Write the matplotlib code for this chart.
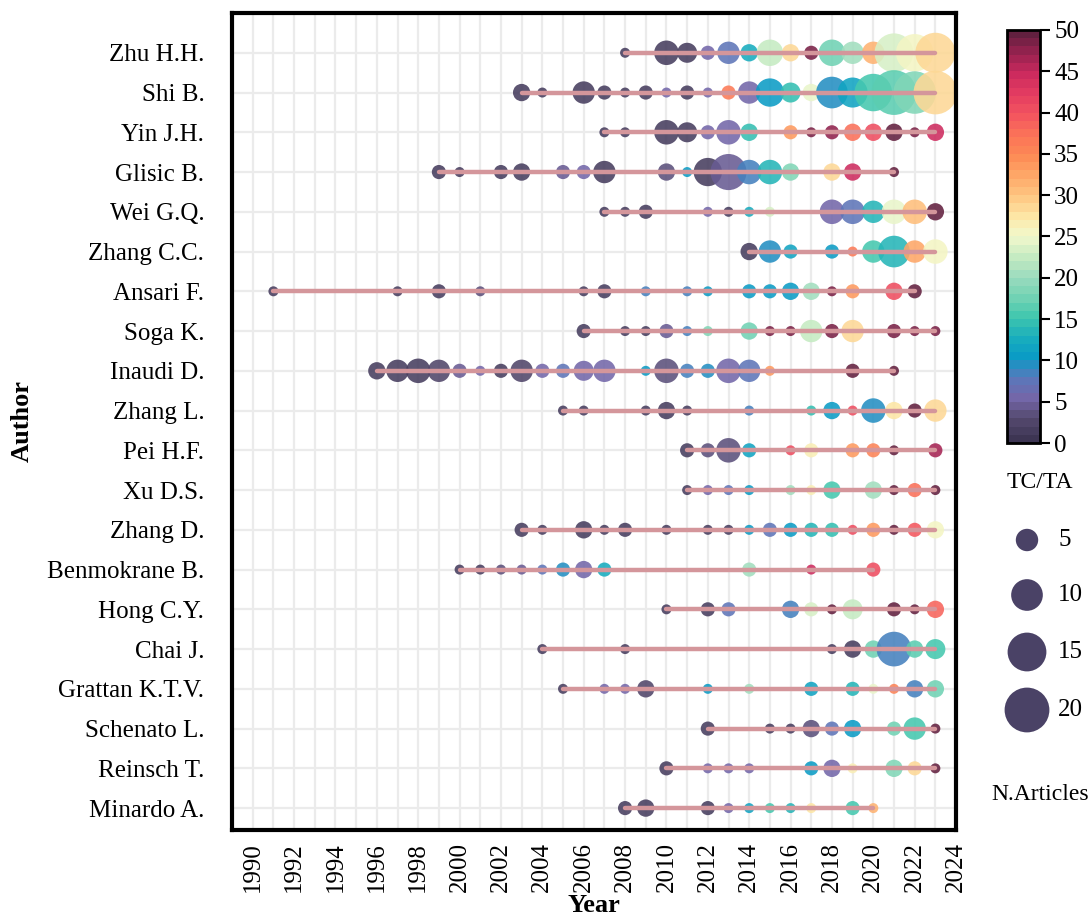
import matplotlib
matplotlib.use("Agg")
import matplotlib.pyplot as plt
import numpy as np
from matplotlib.colors import LinearSegmentedColormap, Normalize
from matplotlib.cm import ScalarMappable

plt.rcParams["font.family"] = ["Liberation Serif", "DejaVu Serif"]

AUTHORS = ["Zhu H.H.", "Shi B.", "Yin J.H.", "Glisic B.", "Wei G.Q.", "Zhang C.C.",
           "Ansari F.", "Soga K.", "Inaudi D.", "Zhang L.", "Pei H.F.", "Xu D.S.",
           "Zhang D.", "Benmokrane B.", "Hong C.Y.", "Chai J.", "Grattan K.T.V.",
           "Schenato L.", "Reinsch T.", "Minardo A."]

# publication years per author
YEARS = {
    "Zhu H.H.": [2008, 2010, 2011, 2012, 2013, 2014, 2015, 2016, 2017, 2018, 2019, 2020, 2021, 2022, 2023],
    "Shi B.": [2003, 2004, 2006, 2007, 2008, 2009, 2010, 2011, 2012, 2013, 2014, 2015, 2016, 2017, 2018, 2019, 2020, 2021, 2022, 2023],
    "Yin J.H.": [2007, 2008, 2010, 2011, 2012, 2013, 2014, 2016, 2017, 2018, 2019, 2020, 2021, 2022, 2023],
    "Glisic B.": [1999, 2000, 2002, 2003, 2005, 2006, 2007, 2010, 2011, 2012, 2013, 2014, 2015, 2016, 2018, 2019, 2021],
    "Wei G.Q.": [2007, 2008, 2009, 2012, 2013, 2014, 2015, 2018, 2019, 2020, 2021, 2022, 2023],
    "Zhang C.C.": [2014, 2015, 2016, 2018, 2019, 2020, 2021, 2022, 2023],
    "Ansari F.": [1991, 1997, 1999, 2001, 2006, 2007, 2009, 2011, 2012, 2014, 2015, 2016, 2017, 2018, 2019, 2021, 2022],
    "Soga K.": [2006, 2008, 2009, 2010, 2011, 2012, 2014, 2015, 2016, 2017, 2018, 2019, 2021, 2022, 2023],
    "Inaudi D.": [1996, 1997, 1998, 1999, 2000, 2001, 2002, 2003, 2004, 2005, 2006, 2007, 2009, 2010, 2011, 2012, 2013, 2014, 2015, 2019, 2021],
    "Zhang L.": [2005, 2006, 2009, 2010, 2011, 2014, 2017, 2018, 2019, 2020, 2021, 2022, 2023],
    "Pei H.F.": [2011, 2012, 2013, 2014, 2016, 2017, 2019, 2020, 2021, 2023],
    "Xu D.S.": [2011, 2012, 2013, 2014, 2016, 2017, 2018, 2020, 2021, 2022, 2023],
    "Zhang D.": [2003, 2004, 2006, 2007, 2008, 2010, 2012, 2013, 2014, 2015, 2016, 2017, 2018, 2019, 2020, 2021, 2022, 2023],
    "Benmokrane B.": [2000, 2001, 2002, 2003, 2004, 2005, 2006, 2007, 2014, 2017, 2020],
    "Hong C.Y.": [2010, 2012, 2013, 2016, 2017, 2018, 2019, 2021, 2022, 2023],
    "Chai J.": [2004, 2008, 2018, 2019, 2020, 2021, 2022, 2023],
    "Grattan K.T.V.": [2005, 2007, 2008, 2009, 2012, 2014, 2017, 2019, 2020, 2021, 2022, 2023],
    "Schenato L.": [2012, 2015, 2016, 2017, 2018, 2019, 2021, 2022, 2023],
    "Reinsch T.": [2010, 2012, 2013, 2014, 2017, 2018, 2019, 2021, 2022, 2023],
    "Minardo A.": [2008, 2009, 2012, 2013, 2014, 2015, 2016, 2017, 2019, 2020],
}

# number of articles in each year
N_ART = {
    "Zhu H.H.": [1, 6, 4, 2, 5, 3, 7, 3, 2, 7, 5, 5, 15, 14, 16],
    "Shi B.": [3, 1, 5, 2, 1, 2, 1, 2, 1, 2, 5, 8, 4, 3, 10, 9, 14, 20, 18, 19],
    "Yin J.H.": [1, 1, 6, 4, 2, 6, 3, 2, 1, 2, 3, 3, 3, 1, 3],
    "Glisic B.": [2, 1, 2, 3, 2, 2, 5, 3, 1, 8, 13, 6, 6, 3, 3, 3, 1],
    "Wei G.Q.": [1, 1, 2, 1, 1, 1, 1, 6, 6, 5, 6, 6, 3],
    "Zhang C.C.": [3, 5, 2, 2, 1, 5, 10, 5, 6],
    "Ansari F.": [1, 1, 2, 1, 1, 2, 1, 1, 1, 2, 2, 3, 3, 1, 2, 3, 2],
    "Soga K.": [2, 1, 1, 2, 1, 1, 3, 1, 1, 5, 2, 5, 2, 1, 1],
    "Inaudi D.": [3, 5, 6, 5, 2, 1, 2, 5, 2, 2, 4, 5, 1, 6, 2, 2, 6, 5, 1, 2, 1],
    "Zhang L.": [1, 1, 1, 3, 1, 1, 1, 3, 1, 6, 3, 2, 5],
    "Pei H.F.": [2, 2, 6, 2, 1, 2, 2, 2, 1, 2],
    "Xu D.S.": [1, 1, 1, 1, 1, 1, 3, 3, 1, 2, 1],
    "Zhang D.": [2, 1, 3, 1, 2, 1, 1, 1, 1, 2, 2, 2, 2, 1, 2, 1, 2, 3],
    "Benmokrane B.": [1, 1, 1, 1, 1, 2, 3, 2, 2, 1, 2],
    "Hong C.Y.": [1, 2, 2, 3, 2, 1, 4, 2, 1, 3],
    "Chai J.": [1, 1, 1, 3, 3, 12, 3, 4],
    "Grattan K.T.V.": [1, 1, 1, 3, 1, 1, 2, 2, 1, 1, 3, 3],
    "Schenato L.": [2, 1, 1, 3, 2, 3, 2, 5, 1],
    "Reinsch T.": [2, 1, 1, 1, 2, 3, 1, 3, 2, 1],
    "Minardo A.": [2, 3, 2, 1, 1, 1, 1, 1, 2, 1],
}

# total citations / total articles
TC_TA = {
    "Zhu H.H.": [1, 1, 1, 5, 7, 12, 22, 28, 48, 17, 20, 31, 23, 25, 29],
    "Shi B.": [1, 1, 1, 1, 1, 1, 5, 1, 5, 36, 5, 10, 14, 24, 9, 11, 15, 16, 18, 29],
    "Yin J.H.": [1, 1, 1, 1, 5, 5, 14, 33, 48, 47, 37, 40, 49, 48, 44],
    "Glisic B.": [1, 1, 1, 1, 4, 5, 1, 3, 10, 1, 4, 8, 13, 18, 28, 44, 49],
    "Wei G.Q.": [1, 1, 1, 5, 1, 12, 23, 5, 7, 13, 24, 30, 49],
    "Zhang C.C.": [1, 9, 11, 10, 36, 15, 13, 32, 25],
    "Ansari F.": [1, 1, 1, 3, 1, 1, 8, 8, 10, 10, 10, 10, 20, 48, 33, 40, 49],
    "Soga K.": [1, 1, 1, 4, 8, 18, 17, 48, 48, 22, 48, 28, 48, 48, 48],
    "Inaudi D.": [1, 1, 1, 2, 4, 5, 1, 2, 5, 7, 5, 5, 10, 3, 8, 9, 5, 7, 33, 49, 49],
    "Zhang L.": [1, 1, 1, 1, 1, 8, 14, 10, 40, 9, 27, 49, 28],
    "Pei H.F.": [1, 3, 3, 11, 40, 26, 33, 35, 49, 46],
    "Xu D.S.": [1, 5, 7, 10, 20, 26, 15, 20, 49, 37, 49],
    "Zhang D.": [1, 1, 1, 1, 1, 1, 1, 1, 10, 7, 10, 13, 14, 40, 33, 49, 39, 25],
    "Benmokrane B.": [1, 1, 3, 4, 7, 9, 5, 12, 20, 44, 40],
    "Hong C.Y.": [1, 1, 7, 8, 23, 49, 22, 49, 49, 38],
    "Chai J.": [1, 1, 1, 1, 17, 8, 16, 15],
    "Grattan K.T.V.": [1, 5, 5, 2, 10, 20, 11, 13, 24, 35, 8, 17],
    "Schenato L.": [1, 1, 1, 3, 7, 10, 17, 15, 49],
    "Reinsch T.": [1, 5, 5, 5, 10, 5, 26, 18, 28, 49],
    "Minardo A.": [1, 1, 1, 5, 11, 15, 13, 27, 15, 31],
}

LEGEND_N = [5, 10, 15, 20]

# colour ramp, 0 -> 50
ramp = ["#3d3553", "#54496e", "#7466a8", "#5a78bb", "#0a9ac6", "#19aebd", "#3fc6ae",
        "#73d3b4", "#9bdbbe", "#c6ebc2", "#f2f8cc", "#fde7a6", "#fec581", "#fea868",
        "#fd8a55", "#fb7358", "#f3555f", "#e43d61", "#cc2a5e", "#9a2250", "#62203f"]
cmap = LinearSegmentedColormap.from_list("tcta", ramp, N=50)
norm = Normalize(0, 50)
SCALE = 52  # marker area (pt^2) per article

fig = plt.figure(figsize=(10.92, 9.18), dpi=100)
ax = fig.add_axes([0.2125, 0.0959, 0.663, 0.8899])

for i, name in enumerate(AUTHORS):
    yrs = YEARS[name]
    ax.scatter(yrs, [i] * len(yrs), s=np.array(N_ART[name]) * SCALE, c=TC_TA[name],
               cmap=cmap, norm=norm, alpha=0.88, edgecolors="none", zorder=2, clip_on=False)
    ax.plot([min(yrs), max(yrs)], [i, i], color="#d4969b", lw=3.2,
            solid_capstyle="round", zorder=3)

ax.set_xlim(1989, 2024)
ax.set_ylim(19.55, -1.0)
ax.set_xticks(range(1990, 2025, 2))
ax.set_xticks(range(1989, 2025), minor=True)
ax.set_xticklabels([str(y) for y in range(1990, 2025, 2)], rotation=90, fontsize=18)
ax.set_yticks(range(len(AUTHORS)))
ax.set_yticklabels(AUTHORS, fontsize=18)
ax.tick_params(axis="y", length=0, pad=20)
ax.tick_params(axis="x", which="both", length=0, pad=9)
ax.grid(True, which="both", axis="x", color="#ebebeb", lw=1.6, zorder=0)
ax.grid(True, which="major", axis="y", color="#ebebeb", lw=1.6, zorder=0)
ax.set_axisbelow(True)
for sp in ax.spines.values():
    sp.set_linewidth(3)

fig.text(22 / 1092, 1 - 421 / 918, "Author", rotation=90, ha="center", va="center",
         fontsize=19, fontweight="bold")
fig.text(594 / 1092, 1 - 905 / 918, "Year", ha="center", va="center",
         fontsize=19, fontweight="bold")

# colour bar
cax = fig.add_axes([0.922, 0.5174, 0.030, 0.450])
cb = fig.colorbar(ScalarMappable(norm=norm, cmap=cmap), cax=cax, ticks=range(0, 51, 5))
cb.outline.set_linewidth(2)
cax.tick_params(labelsize=18, length=7, width=1.5)

# size legend
lax = fig.add_axes([980 / 1092, 1 - 820 / 918, 112 / 1092, 360 / 918])
lax.set_xlim(980, 1092)
lax.set_ylim(820, 460)
lax.axis("off")
for n, yy in zip(LEGEND_N, [540, 595, 652, 710]):
    lax.scatter(1027, yy, s=n * SCALE, color="#4a4266", edgecolors="none", clip_on=False)
    lax.text(1058, yy, str(n), fontsize=18, va="center", ha="left")
lax.text(1040, 482, "TC/TA", fontsize=17, ha="center", va="center")
lax.text(1040, 795, "N.Articles", fontsize=17, ha="center", va="center")

fig.savefig("out.png", dpi=100)
